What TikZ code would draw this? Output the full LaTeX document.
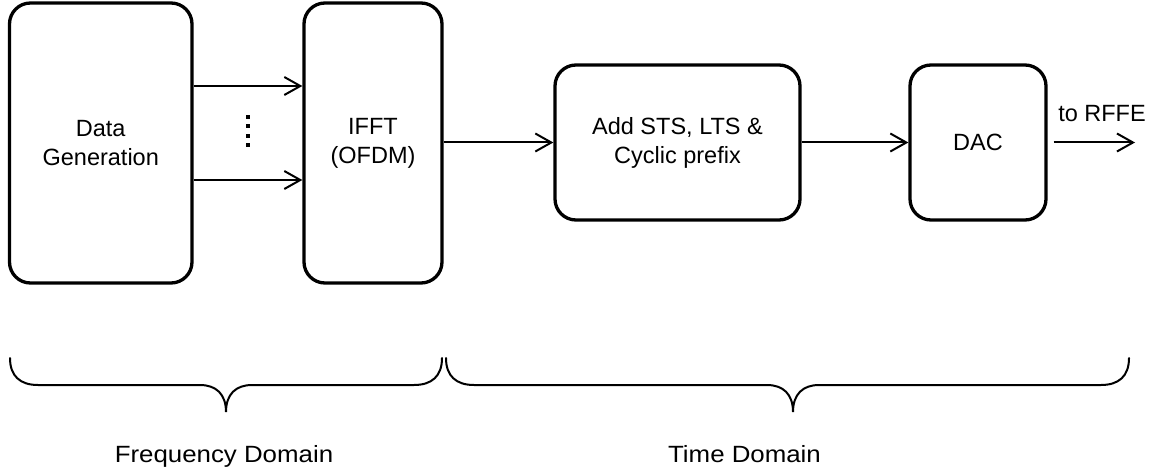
\documentclass[tikz,border=0pt]{standalone}
\usepackage{fontspec}
\setmainfont{Liberation Sans}
\usepackage{graphicx}
\usetikzlibrary{arrows.meta,calc}

\tikzset{
  block/.style={draw, line width=3.3pt, rounded corners=21pt, rectangle,
    align=center, inner sep=0pt, font=\fontsize{23.5}{29}\selectfont},
  arr/.style={line width=2pt, -{Straight Barb[length=16pt,width=18pt,line width=2pt]}},
  brace/.style={line width=2pt, line cap=round},
  lbl/.style={inner sep=0pt, font=\fontsize{23.5}{29}\selectfont},
}

\begin{document}
\begin{tikzpicture}[x=1pt,y=-1pt]
  \useasboundingbox (0,0) rectangle (1158,473);

  % processing blocks
  \node[block, minimum width=182.5pt, minimum height=280pt] (gen)  at (100.75,143) {Data\\Generation};
  \node[block, minimum width=138pt,   minimum height=280pt] (ifft) at (373,143)    {IFFT\\(OFDM)};
  \node[block, minimum width=245pt,   minimum height=155pt] (pre)  at (677.5,142.5) {Add STS, LTS \&\\Cyclic prefix};
  \node[block, minimum width=136pt,   minimum height=155pt] (dac)  at (978,142.5)  {DAC};

  % parallel subcarrier lines
  \draw[arr] (gen.east |- 0,86)  -- (ifft.west |- 0,86);
  \draw[arr] (gen.east |- 0,180) -- (ifft.west |- 0,180);
  \foreach \yy in {117,126.5,136,145.5}
    \fill (246,\yy-2) rectangle +(4,4);

  % serial chain
  \draw[arr] (ifft.east |- pre.west) -- (pre.west);
  \draw[arr] (pre.east) -- (dac.west);
  \coordinate (rf) at (1135,142.5);
  \draw[arr, shorten <=6pt] (dac.east) -- (rf);
  \node[lbl, anchor=base] (rflbl) at (1102,122) {to RFFE};

  % domain braces
  \draw[brace] (10,358) .. controls (10,376) and (20,385) .. (38,385) -- (200,385)
    .. controls (216,385) and (226,394) .. (226,412)
    .. controls (226,394) and (236,385) .. (252,385) -- (414,385)
    .. controls (432,385) and (442,376) .. (442,358);
  \draw[brace] (446,358) .. controls (446,376) and (456,385) .. (474,385) -- (767,385)
    .. controls (783,385) and (793,394) .. (793,412)
    .. controls (793,394) and (803,385) .. (819,385) -- (1101,385)
    .. controls (1119,385) and (1129,376) .. (1129,358);

  \node[lbl, anchor=base] (fd) at (224,462)   {\scalebox{1.1}[1]{Frequency Domain}};
  \node[lbl, anchor=base] (td) at (744.5,462) {\scalebox{1.1}[1]{Time Domain}};
\end{tikzpicture}
\end{document}
